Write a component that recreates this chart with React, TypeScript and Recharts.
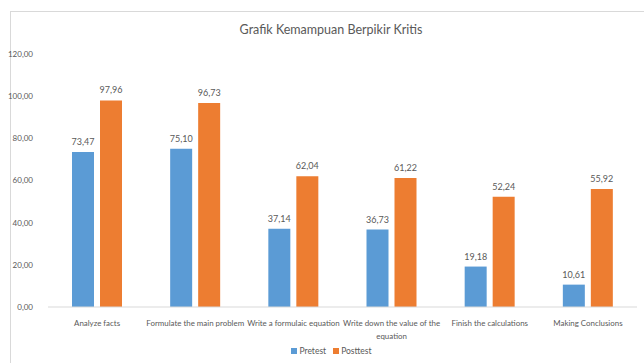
import React from 'react';
import { BarChart, Bar, XAxis, YAxis, LabelList } from 'recharts';

const categories = [
  'Analyze facts',
  'Formulate the main problem',
  'Write a formulaic equation',
  'Write down the value of the equation',
  'Finish the calculations',
  'Making Conclusions',
];
const pretest = [73.47, 75.1, 37.14, 36.73, 19.18, 10.61];
const posttest = [97.96, 96.73, 62.04, 61.22, 52.24, 55.92];
const yTicks = [0, 20, 40, 60, 80, 100, 120];

const FONT = 'Lato, sans-serif';
const TEXT = '#595959';
const BLUE = '#5b9bd5';
const ORANGE = '#ed7d31';

const fmt = (v: number) => v.toFixed(2).replace('.', ',');

const data = categories.map((name, i) => ({
  name,
  Pretest: pretest[i],
  Posttest: posttest[i],
}));

// wrap by character count, like Excel does for long category names
const wrap = (s: string, max = 28) => {
  const lines: string[] = [];
  let cur = '';
  s.split(' ').forEach((w) => {
    const next = cur ? cur + ' ' + w : w;
    if (next.length > max && cur) {
      lines.push(cur);
      cur = w;
    } else {
      cur = next;
    }
  });
  if (cur) lines.push(cur);
  return lines;
};

const CategoryTick = (props: any) => {
  const { x, y, payload } = props;
  const lines = wrap(String(payload.value));
  return (
    <text x={x} y={y + 11} textAnchor="middle" fontSize={7.9} fontFamily={FONT} fill={TEXT}>
      {lines.map((l, i) => (
        <tspan key={i} x={x} dy={i === 0 ? 0 : 13}>
          {l}
        </tspan>
      ))}
    </text>
  );
};

const legendItem = (color: string, label: string) => (
  <span style={{ display: 'inline-flex', alignItems: 'center', marginRight: 7 }}>
    <span style={{ width: 6, height: 6, background: color, display: 'inline-block', marginRight: 2 }} />
    {label}
  </span>
);

export default function App() {
  return (
    <div style={{ position: 'absolute', left: 0, top: 0, width: 644, height: 363, background: '#fff', overflow: 'hidden' }}>
      <div
        style={{
          position: 'absolute',
          left: 10,
          top: 11,
          width: 650,
          height: 370,
          border: '1px solid #d9d9d9',
        }}
      />
      <div
        style={{
          position: 'absolute',
          top: 22,
          left: 0,
          width: 662,
          textAlign: 'center',
          fontFamily: FONT,
          fontSize: 12.5,
          color: TEXT,
        }}
      >
        Grafik Kemampuan Berpikir Kritis
      </div>
      <div style={{ position: 'absolute', left: 0, top: 0 }}>
        <BarChart
          width={644}
          height={363}
          data={data}
          margin={{ top: 54, right: 7, left: 8, bottom: 0 }}
          barSize={22}
          barGap={6}
        >
          <XAxis
            dataKey="name"
            interval={0}
            tickLine={false}
            axisLine={{ stroke: '#d9d9d9' }}
            tick={<CategoryTick />}
            height={56}
          />
          <YAxis
            domain={[0, 120]}
            ticks={yTicks}
            tickFormatter={fmt}
            axisLine={false}
            tickLine={false}
            tickMargin={9}
            width={40}
            tick={{ fontSize: 8, fill: TEXT, fontFamily: FONT }}
          />
          <Bar dataKey="Pretest" fill={BLUE} isAnimationActive={false}>
            <LabelList dataKey="Pretest" position="top" offset={7} formatter={(v: any) => fmt(Number(v))} style={{ fontSize: 9, fill: TEXT, fontFamily: FONT }} />
          </Bar>
          <Bar dataKey="Posttest" fill={ORANGE} isAnimationActive={false}>
            <LabelList dataKey="Posttest" position="top" offset={7} formatter={(v: any) => fmt(Number(v))} style={{ fontSize: 9, fill: TEXT, fontFamily: FONT }} />
          </Bar>
        </BarChart>
      </div>
      <div
        style={{
          position: 'absolute',
          top: 346,
          left: 0,
          width: 670,
          textAlign: 'center',
          fontFamily: FONT,
          fontSize: 8.5,
          color: TEXT,
        }}
      >
        {legendItem(BLUE, 'Pretest')}
        {legendItem(ORANGE, 'Posttest')}
      </div>
    </div>
  );
}
